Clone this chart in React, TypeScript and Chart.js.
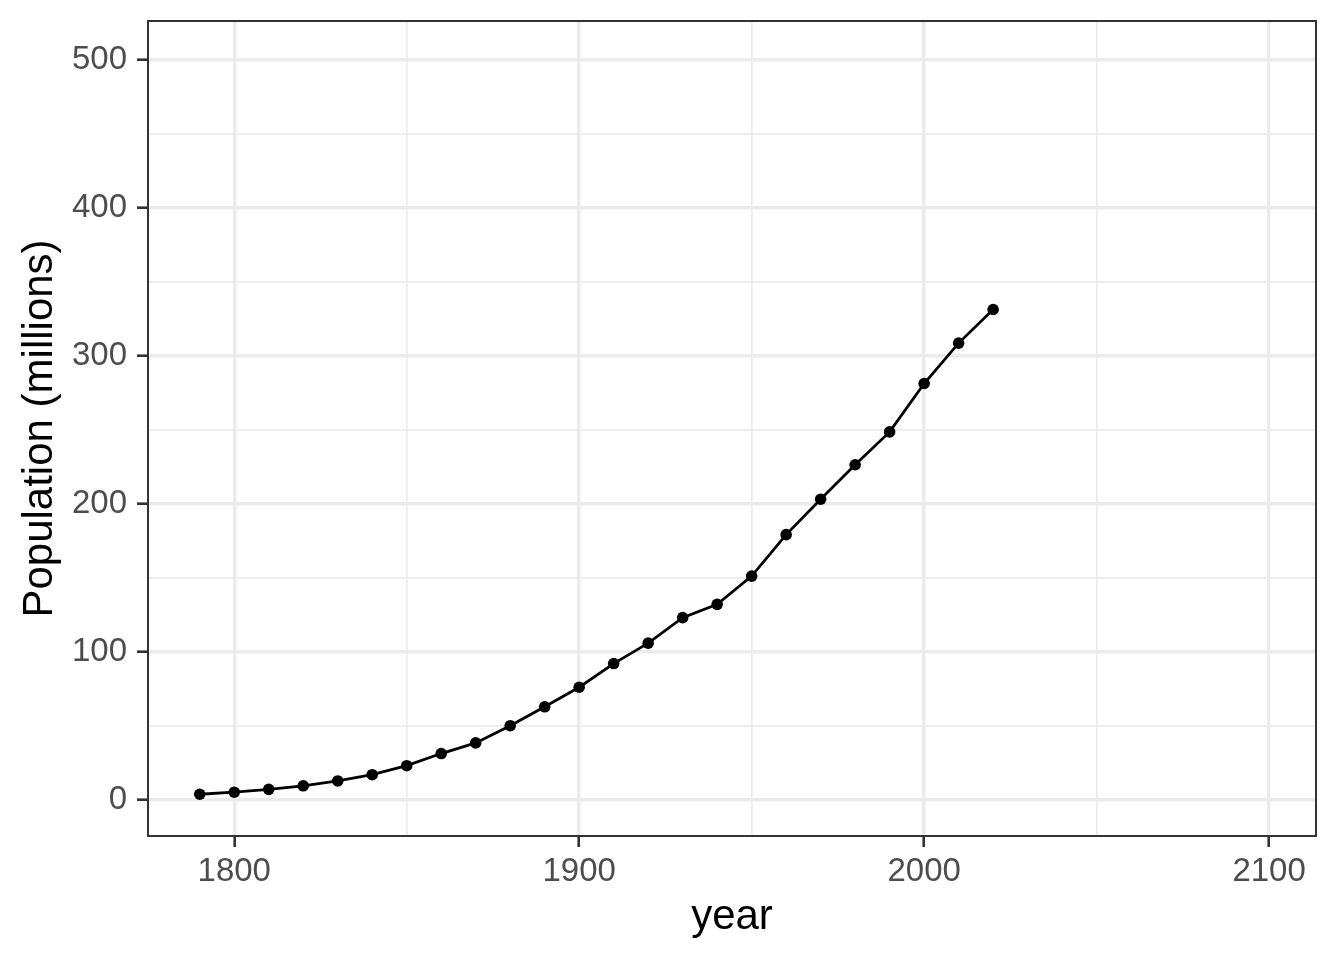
import React, { useEffect, useRef } from "react";
import { Chart, registerables } from "chart.js";

Chart.register(...registerables);

const years = [1790, 1800, 1810, 1820, 1830, 1840, 1850, 1860, 1870, 1880, 1890, 1900, 1910, 1920, 1930, 1940, 1950, 1960, 1970, 1980, 1990, 2000, 2010, 2020];
const population = [3.9, 5.3, 7.2, 9.6, 12.9, 17.1, 23.2, 31.4, 38.6, 50.2, 63.0, 76.2, 92.2, 106.0, 123.2, 132.2, 151.3, 179.3, 203.2, 226.5, 248.7, 281.4, 308.7, 331.4];
const xTicks = [1800, 1850, 1900, 1950, 2000, 2050, 2100];
const yTicks = [0, 50, 100, 150, 200, 250, 300, 350, 400, 450, 500];
const xTitle = "year";
const yTitle = "Population (millions)";

const FONT = "'Liberation Sans', Arial, Helvetica, sans-serif";

const panelBorder = {
  id: "panelBorder",
  afterDatasetsDraw(chart: any) {
    const { ctx, chartArea } = chart;
    ctx.save();
    ctx.strokeStyle = "#333333";
    ctx.lineWidth = 2;
    ctx.strokeRect(chartArea.left, chartArea.top, chartArea.right - chartArea.left, chartArea.bottom - chartArea.top);
    ctx.restore();
  },
};

export default function App() {
  const ref = useRef<HTMLCanvasElement>(null);
  useEffect(() => {
    if (!ref.current) return;
    const isMajor = (v: number) => v % 100 === 0;
    const chart = new Chart(ref.current, {
      type: "line",
      data: {
        datasets: [
          {
            data: years.map((y, i) => ({ x: y, y: population[i] })),
            borderColor: "#000000",
            backgroundColor: "#000000",
            borderWidth: 2.8,
            pointRadius: 5.8,
            pointBorderWidth: 0,
            pointBackgroundColor: "#000000",
            tension: 0,
          },
        ],
      },
      options: {
        animation: false,
        responsive: false,
        maintainAspectRatio: false,
        layout: { padding: { left: 0, top: 21, right: 28, bottom: 0 } },
        plugins: { legend: { display: false }, tooltip: { enabled: false } },
        scales: {
          x: {
            type: "linear",
            min: 1775,
            max: 2113.6,
            afterBuildTicks: (s: any) => { s.ticks = xTicks.map((v) => ({ value: v })); },
            afterFit: (s: any) => { s.height = 124; s.paddingLeft = 0; s.paddingRight = 0; },
            border: { display: false },
            grid: {
              color: "#EBEBEB",
              lineWidth: (c: any) => (isMajor(c.tick?.value) ? 3.4 : 1.7),
              drawTicks: true,
              tickLength: 11,
              tickWidth: 2.6,
              tickColor: (c: any) => (isMajor(c.tick?.value) ? "#333333" : "rgba(0,0,0,0)"),
            },
            ticks: {
              autoSkip: false,
              maxRotation: 0,
              padding: 5,
              color: "#4D4D4D",
              font: { family: FONT, size: 33 },
              callback: (v: any) => (isMajor(Number(v)) ? String(v) : ""),
            },
            title: {
              display: true,
              text: xTitle,
              color: "#000000",
              font: { family: FONT, size: 42 },
              padding: { top: 0, bottom: 17 },
            },
          },
          y: {
            type: "linear",
            min: -24.3,
            max: 526.3,
            afterBuildTicks: (s: any) => { s.ticks = yTicks.map((v) => ({ value: v })); },
            afterFit: (s: any) => { s.width = 148; s.paddingTop = 0; s.paddingBottom = 0; },
            border: { display: false },
            grid: {
              color: "#EBEBEB",
              lineWidth: (c: any) => (isMajor(c.tick?.value) ? 3.4 : 1.7),
              drawTicks: true,
              tickLength: 11,
              tickWidth: 2.6,
              tickColor: (c: any) => (isMajor(c.tick?.value) ? "#333333" : "rgba(0,0,0,0)"),
            },
            ticks: {
              autoSkip: false,
              padding: 10,
              color: "#4D4D4D",
              font: { family: FONT, size: 33 },
              callback: (v: any) => (isMajor(Number(v)) ? String(v) : ""),
            },
            title: {
              display: true,
              text: yTitle,
              color: "#000000",
              font: { family: FONT, size: 42 },
              padding: { top: 15, bottom: 0 },
            },
          },
        },
      },
      plugins: [panelBorder],
    });
    return () => chart.destroy();
  }, []);
  return (
    <div style={{ position: "fixed", left: 0, top: 0, width: 1344, height: 960, background: "#ffffff" }}>
      <canvas ref={ref} width={1344} height={960} style={{ display: "block", width: 1344, height: 960 }} />
    </div>
  );
}
